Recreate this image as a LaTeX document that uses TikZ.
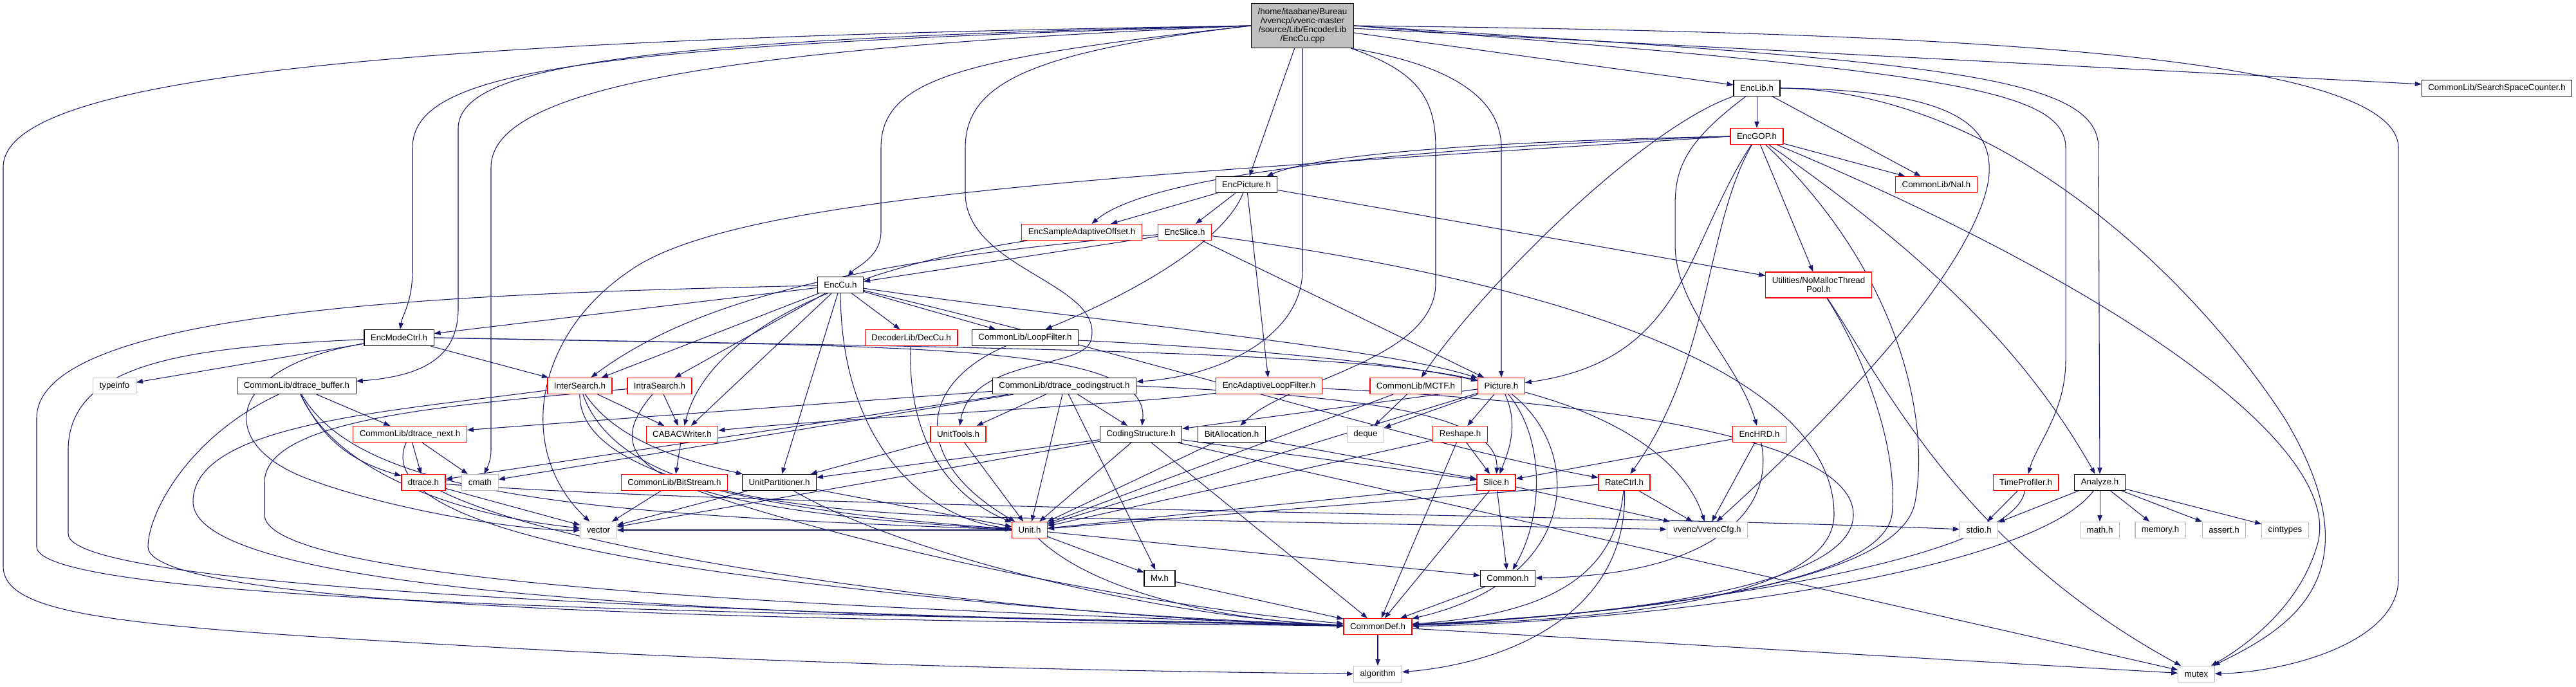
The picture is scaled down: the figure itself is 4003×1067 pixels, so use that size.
\documentclass[tikz,border=0pt]{standalone}
\usepackage{fontspec}
\setmainfont{Liberation Sans}
\usetikzlibrary{arrows.meta,backgrounds}
\definecolor{midblue}{RGB}{25,25,112}
\definecolor{hdrred}{RGB}{255,0,0}
\definecolor{sysgray}{RGB}{191,191,191}

\begin{document}
\begin{tikzpicture}[x=0.75pt,y=-0.75pt,
  hdr/.style={draw=black,fill=white,line width=0.9pt,font=\fontsize{10}{10.5}\selectfont,
    inner xsep=7.5pt,inner ysep=2pt,minimum height=18.75pt,align=center},
  cut/.style={hdr,draw=hdrred},
  sys/.style={hdr,draw=sysgray},
  dep/.style={midblue,line width=0.8pt,-{Triangle[length=7.5pt,width=5.5pt]}}]
\useasboundingbox (0,0) rectangle (4003,1067);

% headers
\node[hdr,fill=sysgray,minimum width=117.75pt,minimum height=51.75pt] (root) at (2024,40)
  {/home/itaabane/Bureau\\/vvencp/vvenc-master\\/source/Lib/EncoderLib\\/EncCu.cpp};
\node[hdr] (enclib) at (2730,137) {EncLib.h};
\node[hdr] (ssc) at (3880,137) {CommonLib/SearchSpaceCounter.h};
\node[cut] (encgop) at (2730,212) {EncGOP.h};
\node[cut] (nal) at (3009,287) {CommonLib/Nal.h};
\node[hdr] (encpic) at (1937,287) {EncPicture.h};
\node[cut] (esao) at (1681,361) {EncSampleAdaptiveOffset.h};
\node[cut] (encslice) at (1841,361) {EncSlice.h};
\node[cut,minimum height=30pt] (nomalloc) at (2826,443) {Utilities/NoMallocThread\\Pool.h};
\node[hdr] (enccu) at (1306,443) {EncCu.h};
\node[hdr] (emc) at (620,525) {EncModeCtrl.h};
\node[cut] (deccu) at (1416,525) {DecoderLib/DecCu.h};
\node[hdr] (loopf) at (1593,525) {CommonLib/LoopFilter.h};
\node[sys] (typeinfo) at (178,600) {typeinfo};
\node[hdr] (dtbuf) at (461,600) {CommonLib/dtrace\_buffer.h};
\node[cut] (inter) at (901,600) {InterSearch.h};
\node[cut] (intra) at (1025,600) {IntraSearch.h};
\node[hdr] (dtcs) at (1654,600) {CommonLib/dtrace\_codingstruct.h};
\node[cut] (ealf) at (1972,600) {EncAdaptiveLoopFilter.h};
\node[cut] (mctf) at (2200,600) {CommonLib/MCTF.h};
\node[cut] (picture) at (2333,600) {Picture.h};
\node[cut] (dtnext) at (637,675) {CommonLib/dtrace\_next.h};
\node[cut] (cabac) at (1060,675) {CABACWriter.h};
\node[cut] (unittools) at (1489,675) {UnitTools.h};
\node[hdr] (codingst) at (1773,675) {CodingStructure.h};
\node[hdr] (bitalloc) at (1914,675) {BitAllocation.h};
\node[sys] (deque) at (2122,675) {deque};
\node[cut] (reshape) at (2269,675) {Reshape.h};
\node[cut] (enchrd) at (2734,675) {EncHRD.h};
\node[cut] (dtrace) at (658,750) {dtrace.h};
\node[sys] (cmath) at (746,750) {cmath};
\node[cut] (bitstream) at (1048,750) {CommonLib/BitStream.h};
\node[hdr] (unitpart) at (1211,750) {UnitPartitioner.h};
\node[cut] (slice) at (2325,750) {Slice.h};
\node[cut] (ratectrl) at (2524,750) {RateCtrl.h};
\node[cut] (timeprof) at (3148,750) {TimeProfiler.h};
\node[hdr] (analyze) at (3263,750) {Analyze.h};
\node[sys] (vector) at (930,824) {vector};
\node[cut] (unit) at (1600,824) {Unit.h};
\node[sys] (cfg) at (2653,824) {vvenc/vvencCfg.h};
\node[sys] (stdio) at (3075,824) {stdio.h};
\node[sys] (math) at (3263,824) {math.h};
\node[sys] (memory) at (3357,824) {memory.h};
\node[sys] (assert) at (3456,824) {assert.h};
\node[sys] (cinttypes) at (3551,824) {cinttypes};
\node[hdr] (mv) at (1802,899) {Mv.h};
\node[hdr] (common) at (2343,899) {Common.h};
\node[cut] (commondef) at (2141,974) {CommonDef.h};
\node[sys] (algorithm) at (2141,1048) {algorithm};
\node[sys] (mutex) at (3413,1048) {mutex};

\begin{scope}[on background layer]
% includes of EncCu.cpp
\draw[dep] (root) -- (enclib);
\draw[dep] (root) -- (ssc);
\draw[dep] (root) -- (encpic);
\draw[dep] (root.west) .. controls (1500,90) and (1369,120) .. (1369,230) -- (1369,360) .. controls (1369,400) and (1330,415) .. (enccu);
\draw[dep] (root.west) .. controls (900,70) and (641,110) .. (641,230) -- (641,420) .. controls (641,470) and (625,490) .. (emc);
\draw[dep] (root.west) .. controls (1000,60) and (712,100) .. (712,200) -- (712,480) .. controls (712,560) and (650,585) .. (dtbuf);
\draw[dep] (root.west) .. controls (1100,75) and (763,140) .. (763,260) -- (763,700) .. controls (763,715) and (758,725) .. (cmath);
\draw[dep] (root.west) .. controls (600,60) and (5,120) .. (5,260) -- (5,880) .. controls (5,960) and (200,975) .. (800,1008) .. controls (1400,1040) and (1900,1045) .. (algorithm);
\draw[dep] (root.-25) .. controls (2250,100) and (2333,150) .. (2333,230) -- (picture);
\draw[dep] (root.-25) .. controls (2200,110) and (2231,150) .. (2231,230) -- (2231,440) .. controls (2231,560) and (2000,590) .. (bitalloc);
\draw[dep] (root.south) -- (2024,420) .. controls (2024,520) and (1900,585) .. (dtcs);
\draw[dep] (root.west) .. controls (1600,80) and (1500,130) .. (1500,230) -- (1500,300) .. controls (1500,420) and (1720,440) .. (1695,530) .. controls (1680,575) and (1510,555) .. (unittools);
\draw[dep] (root.east) .. controls (3000,50) and (3727,80) .. (3727,230) -- (3727,900) .. controls (3727,1000) and (3550,1045) .. (mutex);
\draw[dep] (root.east) .. controls (3000,95) and (3261,115) .. (3261,230) -- (analyze);
\draw[dep] (root.east) .. controls (3000,110) and (3210,135) .. (3210,230) -- (3210,560) .. controls (3210,640) and (3165,690) .. (timeprof);

% EncLib.h
\draw[dep] (enclib) -- (encgop);
\draw[dep] (enclib) -- (nal);
\draw[dep] (enclib) .. controls (2550,200) and (2300,450) .. (mctf);
\draw[dep] (enclib) .. controls (2620,220) and (2603,260) .. (2603,320) -- (2603,380) .. controls (2603,480) and (2700,560) .. (enchrd);
\draw[dep] (enclib.east) .. controls (3050,140) and (3100,200) .. (3090,280) .. controls (3070,400) and (2900,600) .. (cfg);
\draw[dep] (enclib.east) .. controls (3100,140) and (3400,420) .. (3550,650) .. controls (3700,900) and (3550,980) .. (mutex);

% EncGOP.h
\draw[dep] (encgop.west) .. controls (2300,220) and (2050,240) .. (encpic);
\draw[dep] (encgop.west) .. controls (2300,225) and (1800,260) .. (esao);
\draw[dep] (encgop.west) .. controls (1800,270) and (1150,300) .. (980,420) .. controls (830,520) and (800,700) .. (vector);
\draw[dep] (encgop) -- (nal);
\draw[dep] (encgop) -- (nomalloc);
\draw[dep] (encgop) .. controls (2650,350) and (2660,560) .. (ratectrl);
\draw[dep] (encgop) .. controls (2620,380) and (2620,560) .. (picture);
\draw[dep] (encgop) .. controls (2950,420) and (3000,650) .. (2976,780) .. controls (2950,930) and (2400,960) .. (commondef);
\draw[dep] (encgop) .. controls (3000,400) and (3150,550) .. (analyze);
\draw[dep] (encgop) .. controls (3300,450) and (3650,700) .. (3600,850) .. controls (3570,950) and (3480,1010) .. (mutex);

% EncPicture.h, EncSlice.h, EncSampleAdaptiveOffset.h
\draw[dep] (encpic) -- (encslice);
\draw[dep] (encpic) -- (esao);
\draw[dep] (encpic) .. controls (1900,380) and (1750,460) .. (loopf);
\draw[dep] (encpic) -- (ealf);
\draw[dep] (encpic) -- (nomalloc);
\draw[dep] (esao) .. controls (1300,420) and (1100,520) .. (cabac);
\draw[dep] (encslice) -- (enccu);
\draw[dep] (encslice) .. controls (1400,400) and (1100,450) .. (inter);
\draw[dep] (encslice) -- (picture);
\draw[dep] (encslice) .. controls (2500,450) and (2850,600) .. (2850,800) .. controls (2850,950) and (2400,965) .. (commondef);
\draw[dep] (nomalloc) .. controls (2900,560) and (2950,700) .. (2940,800) .. controls (2920,930) and (2400,960) .. (commondef);
\draw[dep] (nomalloc) .. controls (2930,600) and (3050,850) .. (mutex);

% EncCu.h
\draw[dep] (enccu) -- (emc);
\draw[dep] (enccu) -- (deccu);
\draw[dep] (enccu) -- (loopf);
\draw[dep] (enccu) -- (inter);
\draw[dep] (enccu) -- (intra);
\draw[dep] (enccu) -- (cabac);
\draw[dep] (enccu) -- (unitpart);
\draw[dep] (enccu) .. controls (1307,700) and (1450,810) .. (unit);
\draw[dep] (enccu) .. controls (800,455) and (57,470) .. (57,650) -- (57,850) .. controls (57,950) and (1500,955) .. (commondef);
\draw[dep] (enccu) .. controls (1800,560) and (2200,690) .. (ratectrl);
\draw[dep] (enccu) .. controls (1700,500) and (2150,540) .. (picture);

% EncModeCtrl.h
\draw[dep] (emc) -- (typeinfo);
\draw[dep] (emc) -- (inter);
\draw[dep] (emc.east) .. controls (1400,540) and (1790,530) .. (codingst);
\draw[dep] (emc) .. controls (350,570) and (330,690) .. (480,745) .. controls (600,790) and (800,825) .. (vector);
\draw[dep] (emc) .. controls (300,540) and (106,560) .. (106,700) -- (106,830) .. controls (106,930) and (1500,960) .. (commondef);
\draw[dep] (emc.east) .. controls (1500,540) and (2100,545) .. (picture);
\draw[dep] (deccu) .. controls (1410,650) and (1450,760) .. (unit);
\draw[dep] (loopf) .. controls (1420,600) and (1420,720) .. (unit);
\draw[dep] (loopf) .. controls (1900,540) and (2150,560) .. (picture);

% tracing headers
\draw[dep] (dtbuf) -- (dtnext);
\draw[dep] (dtbuf) .. controls (500,680) and (540,715) .. (dtrace);
\draw[dep] (dtbuf) .. controls (290,680) and (230,800) .. (230,850) .. controls (230,960) and (1500,965) .. (commondef);
\draw[dep] (dtbuf) .. controls (520,730) and (700,800) .. (vector);
\draw[dep] (dtbuf) .. controls (560,770) and (900,800) .. (unit);
\draw[dep] (dtnext) -- (dtrace);
\draw[dep] (dtnext) -- (cmath);
\draw[dep] (dtnext) .. controls (590,780) and (800,850) .. (1200,900) .. controls (1600,950) and (1900,965) .. (commondef);
\draw[dep] (dtrace) -- (vector);
\draw[dep] (dtrace) .. controls (900,870) and (1600,960) .. (commondef);
\draw[dep] (dtrace) .. controls (1200,790) and (2500,800) .. (stdio);

% search and coding
\draw[dep] (inter) -- (cabac);
\draw[dep] (inter) .. controls (960,690) and (1080,720) .. (unitpart);
\draw[dep] (inter) .. controls (900,720) and (1100,790) .. (unit);
\draw[dep] (inter) .. controls (600,640) and (300,660) .. (300,780) .. controls (300,950) and (1500,960) .. (commondef);
\draw[dep] (inter) .. controls (960,760) and (1200,806) .. (1700,806) -- (cfg);
\draw[dep] (intra) -- (cabac);
\draw[dep] (intra) .. controls (700,630) and (411,650) .. (411,750) -- (411,800) .. controls (411,920) and (1500,950) .. (commondef);
\draw[dep] (intra) .. controls (940,700) and (950,790) .. (unit);
\draw[dep] (cabac) -- (bitstream);
\draw[dep] (bitstream) -- (vector);
\draw[dep] (bitstream) .. controls (1300,840) and (1750,940) .. (commondef);
\draw[dep] (unitpart) -- (unit);
\draw[dep] (unitpart) .. controls (1400,860) and (1800,960) .. (commondef);
\draw[dep] (unitpart) -- (vector);
\draw[dep] (unittools) -- (unitpart);
\draw[dep] (unittools) -- (unit);

% CommonLib/dtrace_codingstruct.h
\draw[dep] (dtcs) -- (dtnext);
\draw[dep] (dtcs) -- (dtrace);
\draw[dep] (dtcs) -- (cmath);
\draw[dep] (dtcs) -- (unittools);
\draw[dep] (dtcs) -- (unit);
\draw[dep] (dtcs) -- (mv);
\draw[dep] (dtcs) -- (codingst);
\draw[dep] (dtcs.east) .. controls (2100,615) and (2330,640) .. (slice);
\draw[dep] (codingst) -- (unit);
\draw[dep] (codingst) -- (commondef);
\draw[dep] (codingst) -- (slice);
\draw[dep] (codingst) -- (mutex);
\draw[dep] (codingst) -- (unitpart);
\draw[dep] (codingst) -- (vector);
\draw[dep] (bitalloc) -- (unit);
\draw[dep] (bitalloc) -- (slice);
\draw[dep] (ealf) .. controls (1750,630) and (1300,650) .. (cabac);
\draw[dep] (ealf) .. controls (2600,630) and (2880,700) .. (2880,800) .. controls (2880,930) and (2400,962) .. (commondef);

% picture level
\draw[dep] (mctf) -- (deque);
\draw[dep] (mctf) -- (unit);
\draw[dep] (picture) -- (deque);
\draw[dep] (picture) -- (reshape);
\draw[dep] (picture) .. controls (2360,660) and (2345,700) .. (slice);
\draw[dep] (picture) .. controls (2400,680) and (2400,800) .. (common);
\draw[dep] (picture) .. controls (2460,700) and (2460,900) .. (commondef);
\draw[dep] (picture) .. controls (2520,650) and (2620,720) .. (cfg);
\draw[dep] (picture) -- (unit);
\draw[dep] (picture) -- (codingst);
\draw[dep] (reshape) -- (slice);
\draw[dep] (reshape) -- (commondef);
\draw[dep] (reshape) -- (unit);
\draw[dep] (enchrd) -- (slice);
\draw[dep] (enchrd) -- (cfg);
\draw[dep] (enchrd) .. controls (2760,800) and (2650,895) .. (common);
\draw[dep] (slice) -- (common);
\draw[dep] (slice) -- (commondef);
\draw[dep] (slice) -- (cfg);
\draw[dep] (slice) -- (unit);
\draw[dep] (ratectrl) -- (cfg);
\draw[dep] (ratectrl) .. controls (2510,900) and (2400,955) .. (commondef);
\draw[dep] (ratectrl) .. controls (2530,950) and (2350,1030) .. (algorithm);
\draw[dep] (ratectrl) -- (unit);

% bottom rows
\draw[dep] (unit) -- (mv);
\draw[dep] (unit) -- (common);
\draw[dep] (unit) .. controls (1700,920) and (1900,965) .. (commondef);
\draw[dep] (unit) -- (vector);
\draw[dep] (mv) -- (commondef);
\draw[dep] (common) -- (commondef);
\draw[dep] (commondef) -- (algorithm);
\draw[dep] (commondef) -- (mutex);
\draw[dep] (timeprof) -- (stdio);
\draw[dep] (timeprof) .. controls (3130,880) and (2500,960) .. (commondef);
\draw[dep] (analyze) -- (stdio);
\draw[dep] (analyze) -- (math);
\draw[dep] (analyze) -- (memory);
\draw[dep] (analyze) -- (assert);
\draw[dep] (analyze) -- (cinttypes);
\draw[dep] (analyze) .. controls (3150,900) and (2500,970) .. (commondef);
\end{scope}
\end{tikzpicture}
\end{document}
